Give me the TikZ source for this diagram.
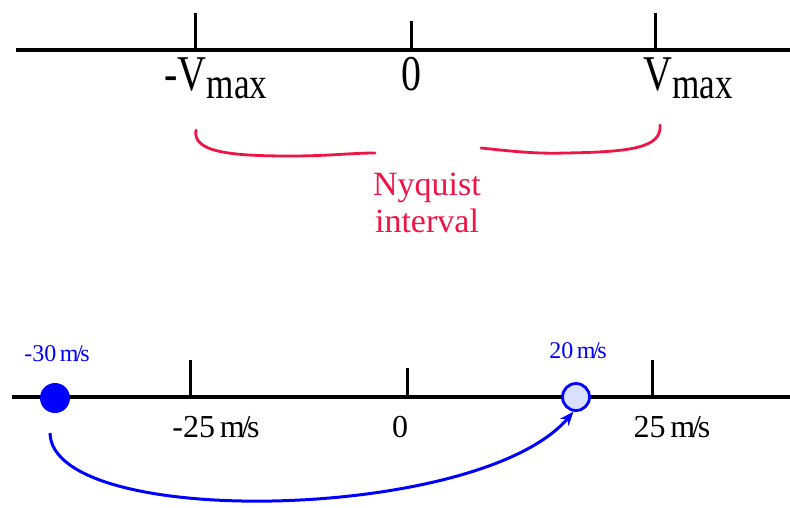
\documentclass[tikz,border=0pt]{standalone}
\usepackage{fontspec}
\setmainfont{Liberation Serif}
\newfontfamily\condf[FakeStretch=0.8]{Liberation Serif}
\usetikzlibrary{arrows.meta}
\definecolor{nyred}{RGB}{240,20,70}
\definecolor{dotblue}{RGB}{218,224,255}
\tikzset{
  axis/.style={line width=3.5pt, black},
  tick/.style={line width=3pt, black},
  biglab/.style={anchor=base, inner sep=0pt, font=\condf\fontsize{50}{50}\selectfont},
  speedlab/.style={anchor=base, inner sep=0pt, font=\fontsize{32}{32}\selectfont},
  bluelab/.style={anchor=base, inner sep=0pt, text=blue, font=\fontsize{24}{24}\selectfont},
  bracket/.style={nyred, line width=2.8pt, line cap=round},
  dotnode/.style={circle, draw=blue, line width=2.8pt, minimum size=27pt, inner sep=0pt}
}
\newcommand{\ms}{\kern0.15em m\kern-0.1em/\kern-0.1em s}
\begin{document}
\begin{tikzpicture}[x=1pt,y=-1pt]
\useasboundingbox (0,0) rectangle (790,507);
% top axis
\coordinate (tl) at (16,50);
\coordinate (tr) at (790,50);
\draw[axis] (tl) -- (tr);
\coordinate (t1a) at (195,13); \coordinate (t1b) at (195,50);
\coordinate (t2a) at (411,21); \coordinate (t2b) at (411,50);
\coordinate (t3a) at (655,13); \coordinate (t3b) at (655,50);
\draw[tick] (t1a) -- (t1b);
\draw[tick] (t2a) -- (t2b);
\draw[tick] (t3a) -- (t3b);
\node[biglab] (lvm) at (216,90) {-V\raisebox{-8pt}{\fontsize{44}{44}\selectfont max}};
\node[biglab] (l0) at (411,90) {0};
\node[biglab] (lvp) at (688,90) {V\raisebox{-8pt}{\fontsize{44}{44}\selectfont max}};
% red brackets
\coordinate (b1) at (196,130);
\coordinate (b2) at (290,156);
\coordinate (b3) at (375,153);
\coordinate (b4) at (481,148);
\coordinate (b5) at (565,153);
\coordinate (b6) at (660,125);
\draw[bracket] (b1) .. controls (192,152) and (230,156) .. (b2) .. controls (330,156) and (350,153) .. (b3);
\draw[bracket] (b4) .. controls (510,151) and (535,154) .. (b5) .. controls (630,152) and (662,148) .. (b6);
\node[anchor=base, inner sep=0pt, text=nyred, align=center, font=\fontsize{34}{37}\selectfont] (nyq) at (427,232) {Nyquist\\interval};
% bottom axis
\coordinate (bl) at (12,397);
\coordinate (br) at (790,397);
\draw[axis] (bl) -- (br);
\coordinate (s1a) at (190,360); \coordinate (s1b) at (190,397);
\coordinate (s2a) at (407,368); \coordinate (s2b) at (407,397);
\coordinate (s3a) at (652,360); \coordinate (s3b) at (652,397);
\draw[tick] (s1a) -- (s1b);
\draw[tick] (s2a) -- (s2b);
\draw[tick] (s3a) -- (s3b);
\node[speedlab] (m25) at (216,437) {-25\ms};
\node[speedlab] (z0) at (400,437) {0};
\node[speedlab] (p25) at (672,437) {25\ms};
\node[bluelab] (m30l) at (57,361) {-30\ms};
\node[bluelab] (p20l) at (578,358) {20\ms};
% dots
\node[circle, fill=blue, minimum size=30pt, inner sep=0pt] (c30) at (55,398) {};
\node[dotnode, fill=dotblue] (c20) at (576,397) {};
% arrow
\coordinate (a0) at (50,433);
\draw[blue, line width=3pt, -{Stealth[length=14pt,width=11pt]}] (a0) .. controls (52,530) and (480,522) .. (c20.-100);
\end{tikzpicture}
\end{document}
